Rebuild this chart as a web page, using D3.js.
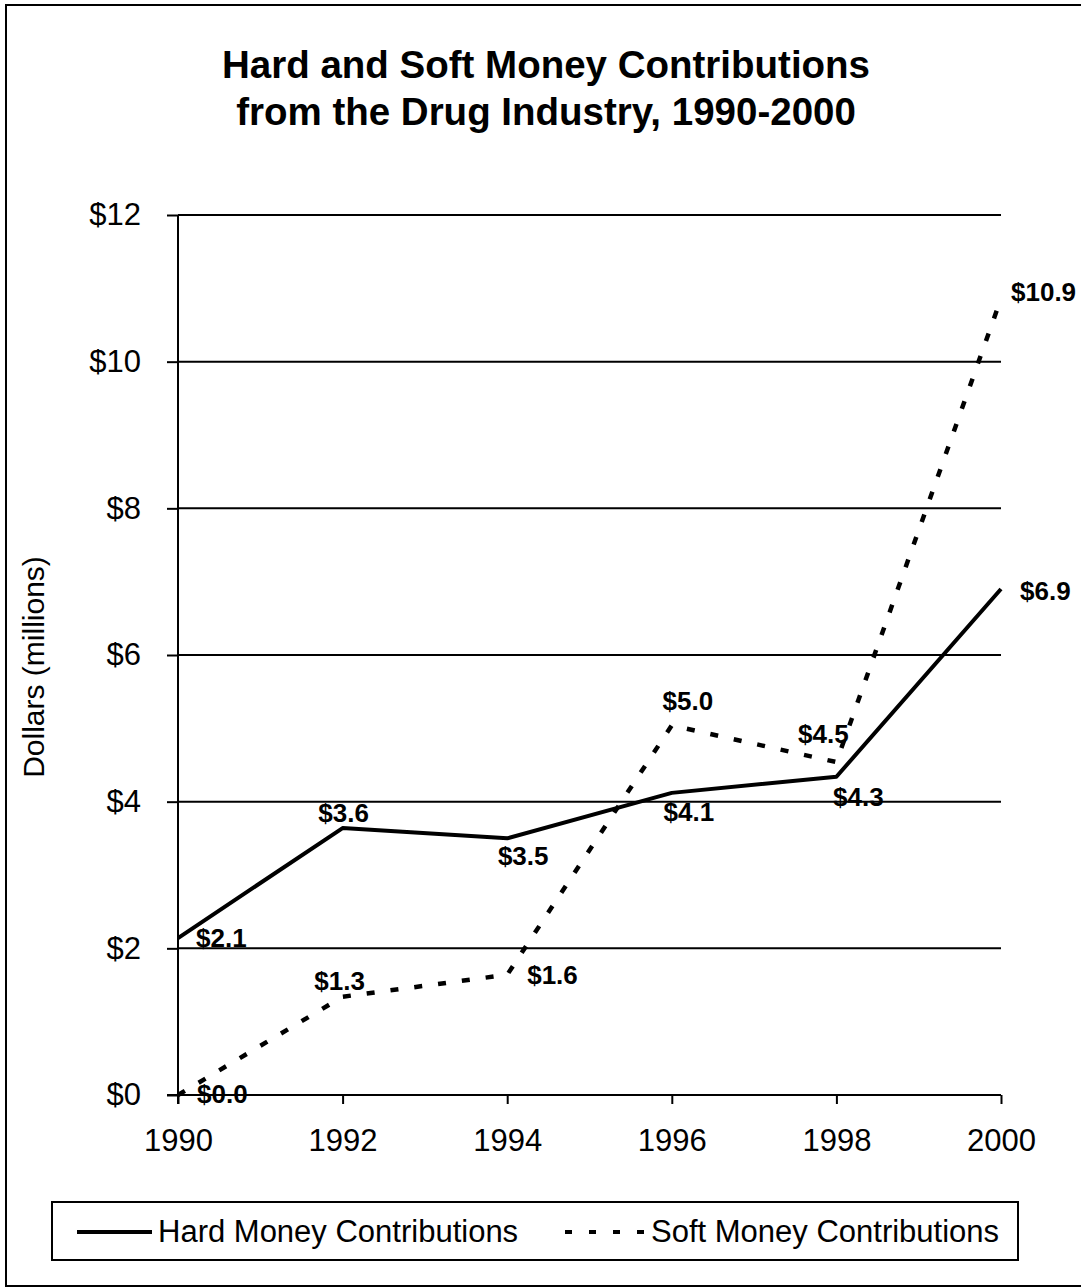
<!DOCTYPE html>
<html>
<head>
<meta charset="utf-8">
<script src="https://cdn.jsdelivr.net/npm/d3@7/dist/d3.min.js"></script>
<style>
  html, body { margin: 0; padding: 0; background: #fff; }
  svg { display: block; font-family: "Liberation Sans", Arial, sans-serif; }
</style>
</head>
<body>
<svg id="chart" width="1081" height="1287"></svg>
<script>
// Drug industry contributions, millions of dollars
const years = [1990, 1992, 1994, 1996, 1998, 2000];
const hardMoney = [2.14, 3.64, 3.50, 4.12, 4.34, 6.90];
const softMoney = [0.00, 1.34, 1.64, 5.04, 4.54, 10.86];
const yTicks = [0, 2, 4, 6, 8, 10, 12];
const seriesNames = ["Hard Money Contributions", "Soft Money Contributions"];
const titleLines = ["Hard and Soft Money Contributions", "from the Drug Industry, 1990-2000"];
const yTitle = "Dollars (millions)";

// label placement relative to each point: [dx, dy, anchor]
const hardLabelLayout = [[18, 9, "start"], [1, -6, "middle"], [16, 27, "middle"], [17, 28, "middle"], [22, 29, "middle"], [19, 11, "start"]];
const softLabelLayout = [[19, 8, "start"], [-3, -7, "middle"], [20, 9, "start"], [16, -15, "middle"], [-13, -19, "middle"], [10, 2, "start"]];

const svg = d3.select("#chart");
const plot = { left: 178, right: 1001, top: 215, bottom: 1095 };

const x = d3.scaleLinear().domain([1990, 2000]).range([plot.left, plot.right]);
const y = d3.scaleLinear().domain([0, 12]).range([plot.bottom, plot.top]);

// outer frame
svg.append("rect")
  .attr("x", 6).attr("y", 5).attr("width", 1076).attr("height", 1281)
  .attr("fill", "none").attr("stroke", "#000").attr("stroke-width", 2);

// title
svg.append("text")
  .attr("text-anchor", "middle")
  .attr("font-size", 38.5).attr("font-weight", "bold")
  .selectAll("tspan").data(titleLines).join("tspan")
  .attr("x", 546).attr("y", (d, i) => 78 + i * 47)
  .text(d => d);

// horizontal gridlines
svg.append("g").selectAll("line").data(yTicks.filter(t => t > 0)).join("line")
  .attr("x1", plot.left).attr("x2", plot.right)
  .attr("y1", d => y(d)).attr("y2", d => y(d))
  .attr("stroke", "#000").attr("stroke-width", 2);

// y axis
const yAxis = svg.append("g")
  .attr("transform", `translate(${plot.left},0)`)
  .call(d3.axisLeft(y).tickValues(yTicks).tickSize(11).tickPadding(26).tickFormat(d => "$" + d));
yAxis.select(".domain").attr("d", `M0,${plot.top}V${plot.bottom + 9}`).attr("stroke-width", 2);
yAxis.selectAll(".tick line").attr("stroke-width", 2);
yAxis.selectAll("text").attr("font-size", 31).attr("fill", "#000").attr("font-family", "Liberation Sans, Arial, sans-serif");

// x axis
const xAxis = svg.append("g")
  .attr("transform", `translate(0,${plot.bottom})`)
  .call(d3.axisBottom(x).tickValues(years).tickSize(9).tickPadding(25).tickFormat(d3.format("d")));
xAxis.select(".domain").attr("d", `M${plot.left - 11},0H${plot.right}`).attr("stroke-width", 2);
xAxis.selectAll(".tick line").attr("stroke-width", 2);
xAxis.selectAll("text").attr("font-size", 31).attr("fill", "#000").attr("font-family", "Liberation Sans, Arial, sans-serif");

// y axis title
svg.append("text")
  .attr("transform", `translate(44,667) rotate(-90)`)
  .attr("text-anchor", "middle")
  .attr("font-size", 30)
  .text(yTitle);

const line = d3.line().x(d => x(d[0])).y(d => y(d[1]));
const hardPts = years.map((yr, i) => [yr, hardMoney[i]]);
const softPts = years.map((yr, i) => [yr, softMoney[i]]);

svg.append("path").datum(softPts).attr("d", line)
  .attr("fill", "none").attr("stroke", "#000").attr("stroke-width", 4.5)
  .attr("stroke-dasharray", "8,16");

svg.append("path").datum(hardPts).attr("d", line)
  .attr("fill", "none").attr("stroke", "#000").attr("stroke-width", 4)
  .attr("stroke-linejoin", "round");

const fmt = v => "$" + d3.format(".1f")(v);
function drawLabels(pts, layout) {
  svg.append("g").selectAll("text").data(pts).join("text")
    .attr("x", (d, i) => x(d[0]) + layout[i][0])
    .attr("y", (d, i) => y(d[1]) + layout[i][1])
    .attr("text-anchor", (d, i) => layout[i][2])
    .attr("font-size", 26).attr("font-weight", "bold")
    .text(d => fmt(d[1]));
}
drawLabels(hardPts, hardLabelLayout);
drawLabels(softPts, softLabelLayout);

// legend
const legend = svg.append("g");
legend.append("rect")
  .attr("x", 52).attr("y", 1202).attr("width", 966).attr("height", 58)
  .attr("fill", "#fff").attr("stroke", "#000").attr("stroke-width", 2);
legend.append("line").attr("x1", 77).attr("x2", 152).attr("y1", 1232).attr("y2", 1232)
  .attr("stroke", "#000").attr("stroke-width", 4);
legend.append("text").attr("x", 158).attr("y", 1242).attr("font-size", 31).text(seriesNames[0]);
legend.append("line").attr("x1", 565).attr("x2", 647).attr("y1", 1232).attr("y2", 1232)
  .attr("stroke", "#000").attr("stroke-width", 4).attr("stroke-dasharray", "7,17");
legend.append("text").attr("x", 651).attr("y", 1242).attr("font-size", 31).text(seriesNames[1]);
</script>
</body>
</html>
